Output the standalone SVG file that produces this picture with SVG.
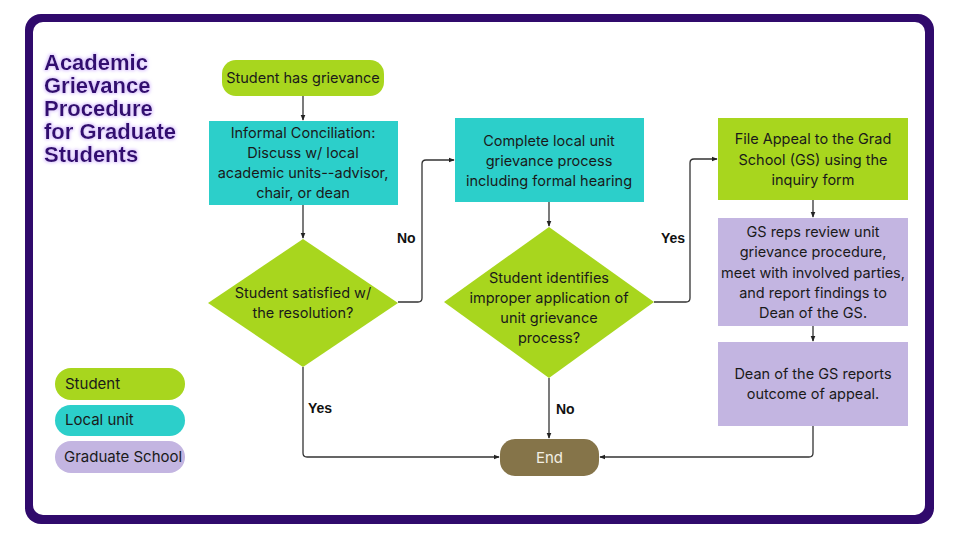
<svg xmlns="http://www.w3.org/2000/svg" width="960" height="540" viewBox="0 0 960 540">
<defs>
<style>
.t{font-family:Inter,"Noto Sans","Liberation Sans",sans-serif;font-size:14.5px;fill:#1a1a1a;text-anchor:middle}
.lg{font-family:Inter,"Noto Sans","Liberation Sans",sans-serif;font-size:15px;fill:#1a1a1a}
.lab{font-family:"Liberation Sans",Arial,sans-serif;font-size:14px;font-weight:bold;fill:#111}
.title{font-family:"Liberation Sans",Arial,sans-serif;font-size:22px;font-weight:bold;fill:#330d70}
.green{fill:#a8d61e}
.teal{fill:#2ccfca}
.lav{fill:#c3b5e1}
.c{fill:none;stroke:#333;stroke-width:1.3;marker-end:url(#ah)}
</style>
<marker id="ah" viewBox="0 0 8 8" refX="7" refY="4" markerWidth="6" markerHeight="6" orient="auto" markerUnits="userSpaceOnUse">
<path d="M0,0.8 L8,4 L0,7.2 Z" fill="#222"/>
</marker>
<filter id="glow" x="-10%" y="-20%" width="120%" height="140%">
<feMorphology in="SourceAlpha" operator="dilate" radius="0.8" result="d"/>
<feGaussianBlur in="d" stdDeviation="1.8" result="b"/>
<feFlood flood-color="#c9a6ff" flood-opacity="0.6"/>
<feComposite in2="b" operator="in" result="g"/>
<feMerge><feMergeNode in="g"/><feMergeNode in="SourceGraphic"/></feMerge>
</filter>
</defs>
<rect x="25" y="14" width="909" height="510" rx="16" fill="#300a6c"/>
<rect x="33" y="22" width="892" height="493" rx="10" fill="#ffffff"/>

<g id="title" filter="url(#glow)">
<text class="title" x="44" y="70">Academic</text>
<text class="title" x="44" y="93">Grievance</text>
<text class="title" x="44" y="116">Procedure</text>
<text class="title" x="44" y="139">for Graduate</text>
<text class="title" x="44" y="162">Students</text>
</g>

<g id="connectors">
<path class="c" d="M303,96 V120"/>
<path class="c" d="M303,205 V238"/>
<path class="c" d="M398,302 H418 Q422,302 422,298 V164 Q422,160 426,160 H454"/>
<path class="c" d="M549,202 V226"/>
<path class="c" d="M654,302 H686 Q690,302 690,298 V163 Q690,159 694,159 H717"/>
<path class="c" d="M303,367 V453 Q303,457 307,457 H499"/>
<path class="c" d="M549,378 V438"/>
<path class="c" d="M813,200 V217"/>
<path class="c" d="M813,326 V341"/>
<path class="c" d="M813,426 V453 Q813,457 809,457 H600"/>
<text class="lab" x="397" y="243">No</text>
<text class="lab" x="661" y="243">Yes</text>
<text class="lab" x="308" y="413">Yes</text>
<text class="lab" x="556" y="414">No</text>
</g>

<g id="start">
<rect class="green" x="222" y="60" width="162" height="36" rx="14"/>
<text class="t" x="303" y="83">Student has grievance</text>
</g>

<g id="informal">
<rect class="teal" x="209" y="121" width="189" height="84"/>
<text class="t" x="303" y="138">Informal Conciliation:</text>
<text class="t" x="303" y="158">Discuss w/ local</text>
<text class="t" x="303" y="178">academic units--advisor,</text>
<text class="t" x="303" y="198">chair, or dean</text>
</g>

<g id="decision1">
<polygon class="green" points="303,239 398,303 303,367 208,303"/>
<text class="t" x="303" y="298">Student satisfied w/</text>
<text class="t" x="303" y="318">the resolution?</text>
</g>

<g id="local">
<rect class="teal" x="455" y="118" width="189" height="84"/>
<text class="t" x="549" y="146">Complete local unit</text>
<text class="t" x="549" y="166">grievance process</text>
<text class="t" x="549" y="186">including formal hearing</text>
</g>

<g id="decision2">
<polygon class="green" points="549,227 654,302 549,378 444,302"/>
<text class="t" x="549" y="283">Student identifies</text>
<text class="t" x="549" y="303">improper application of</text>
<text class="t" x="549" y="323">unit grievance</text>
<text class="t" x="549" y="343">process?</text>
</g>

<g id="appeal">
<rect class="green" x="718" y="118" width="190" height="82"/>
<text class="t" x="813" y="144">File Appeal to the Grad</text>
<text class="t" x="813" y="165">School (GS) using the</text>
<text class="t" x="813" y="185">inquiry form</text>
</g>

<g id="review">
<rect class="lav" x="718" y="218" width="190" height="108"/>
<text class="t" x="813" y="237">GS reps review unit</text>
<text class="t" x="813" y="257">grievance procedure,</text>
<text class="t" x="813" y="278">meet with involved parties,</text>
<text class="t" x="813" y="298">and report findings to</text>
<text class="t" x="813" y="318">Dean of the GS.</text>
</g>

<g id="dean">
<rect class="lav" x="718" y="342" width="190" height="84"/>
<text class="t" x="813" y="379">Dean of the GS reports</text>
<text class="t" x="813" y="399">outcome of appeal.</text>
</g>

<g id="end">
<rect x="500" y="439" width="99" height="37" rx="15" fill="#857449"/>
<text class="t" x="549.5" y="463" style="fill:#f3efe4;font-size:15px">End</text>
</g>

<g id="legend-student">
<rect class="green" x="55" y="368" width="130" height="32" rx="16"/>
<text class="lg" x="65" y="389">Student</text>
</g>
<g id="legend-local">
<rect class="teal" x="55" y="405" width="130" height="31" rx="15.5"/>
<text class="lg" x="65" y="425">Local unit</text>
</g>
<g id="legend-grad">
<rect class="lav" x="55" y="441" width="130" height="32" rx="16"/>
<text class="lg" x="64" y="462">Graduate School</text>
</g>
</svg>
